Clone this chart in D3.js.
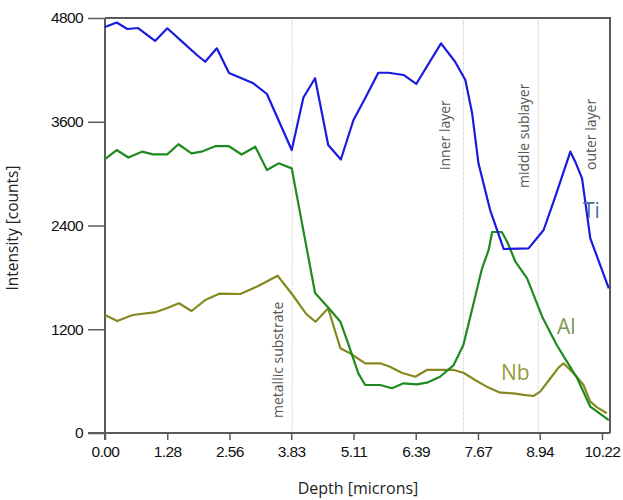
<!DOCTYPE html>
<html>
<head>
<meta charset="utf-8">
<script src="https://cdn.jsdelivr.net/npm/d3@7"></script>
<style>
  html, body { margin: 0; padding: 0; background: #fff; }
  svg { display: block; }
</style>
</head>
<body>
<svg id="chart" width="623" height="500"></svg>
<script>
// ---- Data ----
const xTickLabels = ["0.00", "1.28", "2.56", "3.83", "5.11", "6.39", "7.67", "8.94", "10.22"];
const yTickLabels = ["0", "1200", "2400", "3600", "4800"];

const tiDepth  = [0, 0.24, 0.46, 0.68, 1.03, 1.28, 1.58, 1.89, 2.06, 2.30, 2.55, 3.05, 3.33, 3.84, 4.08, 4.32, 4.59, 4.85, 5.11, 5.35, 5.62, 5.83, 6.14, 6.40, 6.91, 7.20, 7.41, 7.55, 7.68, 7.92, 8.20, 8.71, 9.02, 9.26, 9.57, 9.67, 9.81, 9.98, 10.36];
const tiValues = [4696, 4748, 4673, 4684, 4534, 4681, 4530, 4372, 4294, 4449, 4165, 4045, 3921, 3273, 3880, 4103, 3331, 3163, 3620, 3871, 4167, 4167, 4141, 4037, 4507, 4294, 4083, 3698, 3119, 2579, 2128, 2136, 2348, 2733, 3254, 3138, 2946, 2252, 1674];

const alDepth  = [0, 0.24, 0.48, 0.76, 0.99, 1.28, 1.51, 1.78, 2.01, 2.28, 2.54, 2.81, 3.09, 3.33, 3.57, 3.84, 4.32, 4.59, 4.84, 5.01, 5.21, 5.35, 5.66, 5.90, 6.14, 6.41, 6.62, 6.89, 7.17, 7.37, 7.58, 7.75, 7.89, 7.96, 8.16, 8.27, 8.44, 8.68, 8.99, 9.29, 9.50, 9.71, 9.98, 10.36];
const alValues = [3169, 3273, 3186, 3254, 3223, 3223, 3340, 3235, 3258, 3319, 3319, 3221, 3311, 3042, 3119, 3061, 1619, 1451, 1287, 1018, 690, 555, 555, 517, 575, 563, 582, 651, 786, 1018, 1500, 1897, 2117, 2325, 2325, 2213, 1981, 1789, 1345, 1018, 825, 633, 304, 150];

const nbDepth  = [0, 0.25, 0.57, 1.05, 1.27, 1.52, 1.78, 2.06, 2.35, 2.78, 3.15, 3.55, 3.86, 4.14, 4.33, 4.59, 4.84, 5.04, 5.35, 5.66, 5.86, 6.10, 6.38, 6.62, 7.17, 7.37, 7.61, 7.85, 8.13, 8.40, 8.61, 8.81, 8.95, 9.16, 9.33, 9.43, 9.67, 9.84, 9.98, 10.12, 10.32];
const nbValues = [1365, 1295, 1365, 1399, 1442, 1500, 1411, 1538, 1611, 1608, 1700, 1819, 1596, 1376, 1287, 1442, 980, 922, 806, 806, 767, 697, 651, 729, 729, 697, 613, 536, 466, 459, 440, 428, 478, 633, 760, 806, 671, 555, 362, 297, 228];

const layerNames  = ["metallic substrate", "inner layer", "middle sublayer", "outer layer"];
const layerBounds = [3.85, 7.37, 8.91];

const seriesNames = ["Ti", "Al", "Nb"];

// ---- Layout ----
const svg = d3.select("#chart");
const mLeft = 105, mRight = 610, mTop = 18, mBottom = 433;

const x = d3.scaleLinear().domain([0, 10.385]).range([mLeft, mRight]);
const y = d3.scaleLinear().domain([0, 4800]).range([mBottom, mTop]);

const xTickVals = xTickLabels.map(Number);
const yTickVals = yTickLabels.map(Number);

// Layer separators (dotted)
svg.append("g").selectAll("line").data(layerBounds).join("line")
  .attr("x1", d => x(d)).attr("x2", d => x(d))
  .attr("y1", mTop).attr("y2", mBottom)
  .attr("stroke", "#b8b8b8").attr("stroke-width", 1)
  .attr("stroke-dasharray", "1,1.5");

// Frame: top and right
svg.append("path")
  .attr("d", `M${mLeft},${mTop}H${mRight}V${mBottom}`)
  .attr("fill", "none").attr("stroke", "#5a5a5a").attr("stroke-width", 2);

// Axes
const xAxis = d3.axisBottom(x).tickValues(xTickVals).tickFormat((d, i) => xTickLabels[i])
  .tickSizeInner(7).tickSizeOuter(0).tickPadding(6);
const gx = svg.append("g").attr("transform", `translate(0,${mBottom})`).call(xAxis);
gx.select(".domain").remove();
gx.append("line").attr("x1", 88).attr("x2", mRight).attr("y1", 0).attr("y2", 0)
  .attr("stroke", "#5a5a5a").attr("stroke-width", 2);
gx.selectAll(".tick line").attr("stroke", "#5a5a5a").attr("stroke-width", 1.5);
gx.selectAll(".tick text").attr("font-family", "Liberation Sans, Arial, sans-serif")
  .attr("font-size", 15.5).attr("fill", "#111").attr("letter-spacing", "-0.6");

const yAxis = d3.axisLeft(y).tickValues(yTickVals).tickFormat((d, i) => yTickLabels[i])
  .tickSizeInner(17).tickSizeOuter(0).tickPadding(5);
const gy = svg.append("g").attr("transform", `translate(${mLeft},0)`).call(yAxis);
gy.select(".domain").remove();
gy.append("line").attr("x1", 0).attr("x2", 0).attr("y1", mTop).attr("y2", mBottom + 7)
  .attr("stroke", "#5a5a5a").attr("stroke-width", 2);
gy.selectAll(".tick line").attr("stroke", "#5a5a5a").attr("stroke-width", 1.5);
gy.selectAll(".tick text").attr("font-family", "Liberation Sans, Arial, sans-serif")
  .attr("font-size", 15.5).attr("fill", "#111").attr("letter-spacing", "-0.6");

// Axis titles
svg.append("text")
  .attr("transform", "translate(18,228) rotate(-90)")
  .attr("text-anchor", "middle")
  .attr("font-family", "Open Sans, sans-serif").attr("font-size", 15.5).attr("fill", "#222")
  .text("Intensity [counts]");
svg.append("text")
  .attr("x", 358).attr("y", 494)
  .attr("text-anchor", "middle")
  .attr("font-family", "Open Sans, sans-serif").attr("font-size", 16).attr("fill", "#222")
  .text("Depth [microns]");

// Layer labels (rotated)
const layerLabelPos = [[282.5, 418], [450, 170], [528.5, 188], [596, 170]];
svg.append("g").selectAll("text").data(layerNames).join("text")
  .attr("transform", (d, i) => `translate(${layerLabelPos[i][0]},${layerLabelPos[i][1]}) rotate(-90)`)
  .attr("text-anchor", "start")
  .attr("font-family", "Open Sans, sans-serif").attr("font-size", 14).attr("fill", "#555")
  .text(d => d);

// Lines
const line = d3.line().x(d => x(d[0])).y(d => y(d[1])).curve(d3.curveLinear);
const seriesData = [
  { pts: d3.zip(nbDepth, nbValues), color: "#868a1e" },
  { pts: d3.zip(alDepth, alValues), color: "#1f8a1f" },
  { pts: d3.zip(tiDepth, tiValues), color: "#1a1ae0" }
];
svg.append("g").selectAll("path").data(seriesData).join("path")
  .attr("d", d => line(d.pts))
  .attr("fill", "none")
  .attr("stroke", d => d.color)
  .attr("stroke-width", 2.2)
  .attr("stroke-linejoin", "round");

// Series labels
const seriesLabelPos = [[583, 218], [557, 334], [501, 380]];
const seriesLabelColor = ["#4a6aa5", "#7d9550", "#979a3c"];
svg.append("g").selectAll("text").data(seriesNames).join("text")
  .attr("x", (d, i) => seriesLabelPos[i][0]).attr("y", (d, i) => seriesLabelPos[i][1])
  .attr("font-family", "Open Sans, sans-serif").attr("font-size", 21)
  .attr("fill", (d, i) => seriesLabelColor[i])
  .text(d => d);
</script>
</body>
</html>
